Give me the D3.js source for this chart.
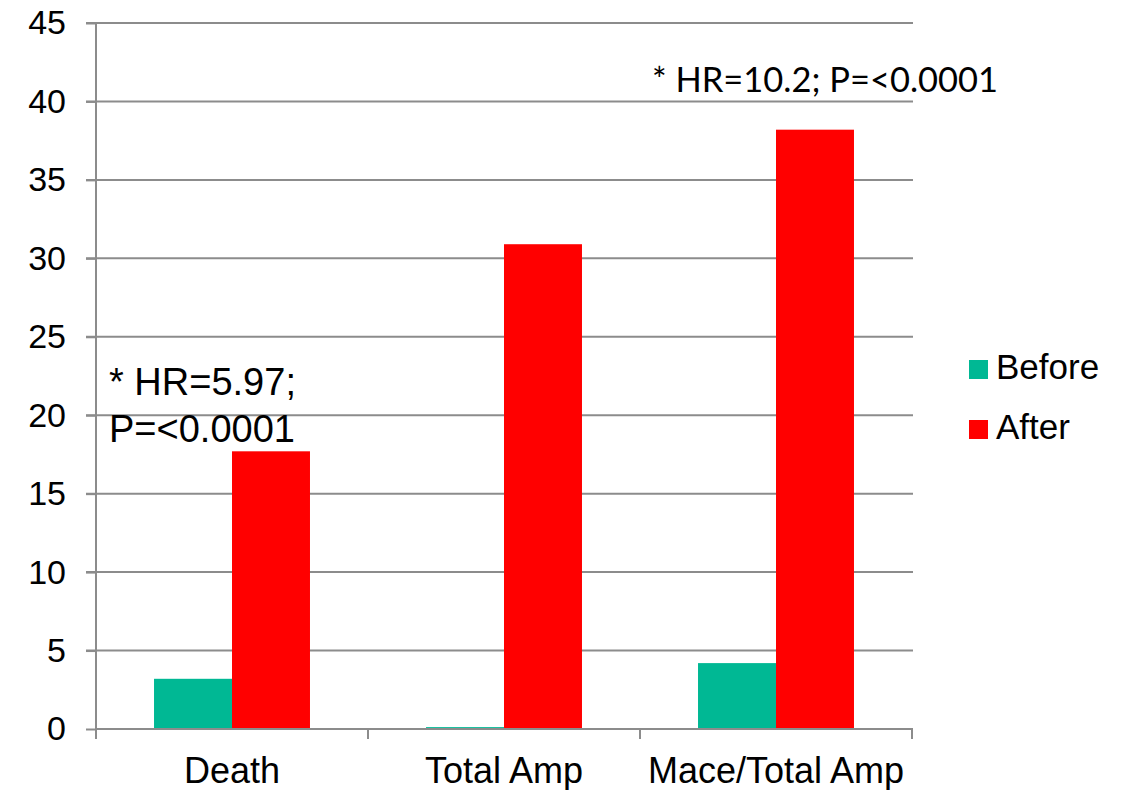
<!DOCTYPE html>
<html>
<head>
<meta charset="utf-8">
<script src="https://cdn.jsdelivr.net/npm/d3@7/dist/d3.min.js"></script>
<style>
  html, body { margin: 0; padding: 0; background: #fff; }
  svg text { fill: #000; }
</style>
</head>
<body>
<svg id="chart" width="1127" height="790"></svg>
<script>
// Outcome rates before and after, by category
const categories = ["Death", "Total Amp", "Mace/Total Amp"];
const seriesNames = ["Before", "After"];
const beforeValues = [3.2, 0.12, 4.2];
const afterValues = [17.7, 30.9, 38.2];
const yTicks = [0, 5, 10, 15, 20, 25, 30, 35, 40, 45];
const seriesColors = ["#00B894", "#FF0000"];

const FONT = "'Liberation Sans', Arial, sans-serif";
const svg = d3.select("#chart").style("font-family", FONT);
const margin = { left: 96, top: 23, right: 215, bottom: 61 };
const width = 1127 - margin.left - margin.right;
const height = 790 - margin.top - margin.bottom;
const g = svg.append("g").attr("transform", `translate(${margin.left},${margin.top})`);

const x0 = d3.scaleBand().domain(categories).range([0, width]).padding(0);
const x1 = d3.scaleBand().domain(seriesNames).range([0, x0.bandwidth()])
  .paddingInner(0).paddingOuter(0.744);
const y = d3.scaleLinear().domain([0, 45]).range([height, 0]);

const gray = "#8C8C8C";

// horizontal gridlines, extending past the axis as tick marks
g.append("g").selectAll("line").data(yTicks.filter(d => d > 0)).join("line")
  .attr("x1", -10).attr("x2", width + 1)
  .attr("y1", d => y(d)).attr("y2", d => y(d))
  .attr("stroke", gray).attr("stroke-width", 2);

// y axis with labels
const yAxis = d3.axisLeft(y).tickValues(yTicks).tickSize(10).tickPadding(20);
const ya = g.append("g").call(yAxis);
ya.select(".domain").remove();
ya.selectAll(".tick line").attr("stroke", gray).attr("stroke-width", 2);
ya.selectAll(".tick text").style("font-size", "34px").style("font-family", FONT).attr("fill", "#000");
g.append("line").attr("x1", 0).attr("x2", 0).attr("y1", 0).attr("y2", height + 10)
  .attr("stroke", gray).attr("stroke-width", 2);

// bars
const rows = categories.map((c, i) => ({ cat: c, vals: [beforeValues[i], afterValues[i]] }));
const grp = g.append("g").selectAll("g").data(rows).join("g")
  .attr("transform", d => `translate(${x0(d.cat)},0)`);
grp.selectAll("rect").data(d => d.vals.map((v, k) => ({ key: seriesNames[k], v, k }))).join("rect")
  .attr("x", d => x1(d.key))
  .attr("width", x1.bandwidth())
  .attr("y", d => y(d.v))
  .attr("height", d => y(0) - y(d.v))
  .attr("fill", d => seriesColors[d.k]);

// x axis baseline and category ticks
const xa = g.append("g").attr("transform", `translate(0,${height})`)
  .call(d3.axisBottom(x0).tickSize(0).tickPadding(28));
xa.select(".domain").attr("stroke", gray).attr("stroke-width", 2).attr("d", `M0,0H${width + 1}`);
xa.selectAll(".tick text").style("font-size", "36px").style("font-family", FONT).attr("fill", "#000");
const bounds = categories.map(c => x0(c) + x0.bandwidth());
g.append("g").selectAll("line").data(bounds).join("line")
  .attr("x1", d => d).attr("x2", d => d)
  .attr("y1", height).attr("y2", height + 10)
  .attr("stroke", gray).attr("stroke-width", 2);

// annotations
const ann1 = g.append("text").style("font-size", "38px").style("font-family", FONT);
ann1.append("tspan").attr("x", 13).attr("y", 372).text("* HR=5.97;");
ann1.append("tspan").attr("x", 13).attr("y", 419).text("P=<0.0001");
g.append("text").attr("x", 556).attr("y", 69)
  .style("font-family", "Lato, 'Open Sans', sans-serif").style("font-size", "35px")
  .attr("textLength", 346).attr("lengthAdjust", "spacingAndGlyphs")
  .text("* HR=10.2; P=<0.0001");

// legend
const legend = svg.append("g").attr("transform", "translate(969,360)");
seriesNames.forEach((s, i) => {
  const row = legend.append("g").attr("transform", `translate(0,${i * 60})`);
  row.append("rect").attr("width", 19).attr("height", 19).attr("fill", seriesColors[i]);
  row.append("text").attr("x", 27).attr("y", 19).style("font-size", "35px").text(s);
});
</script>
</body>
</html>
